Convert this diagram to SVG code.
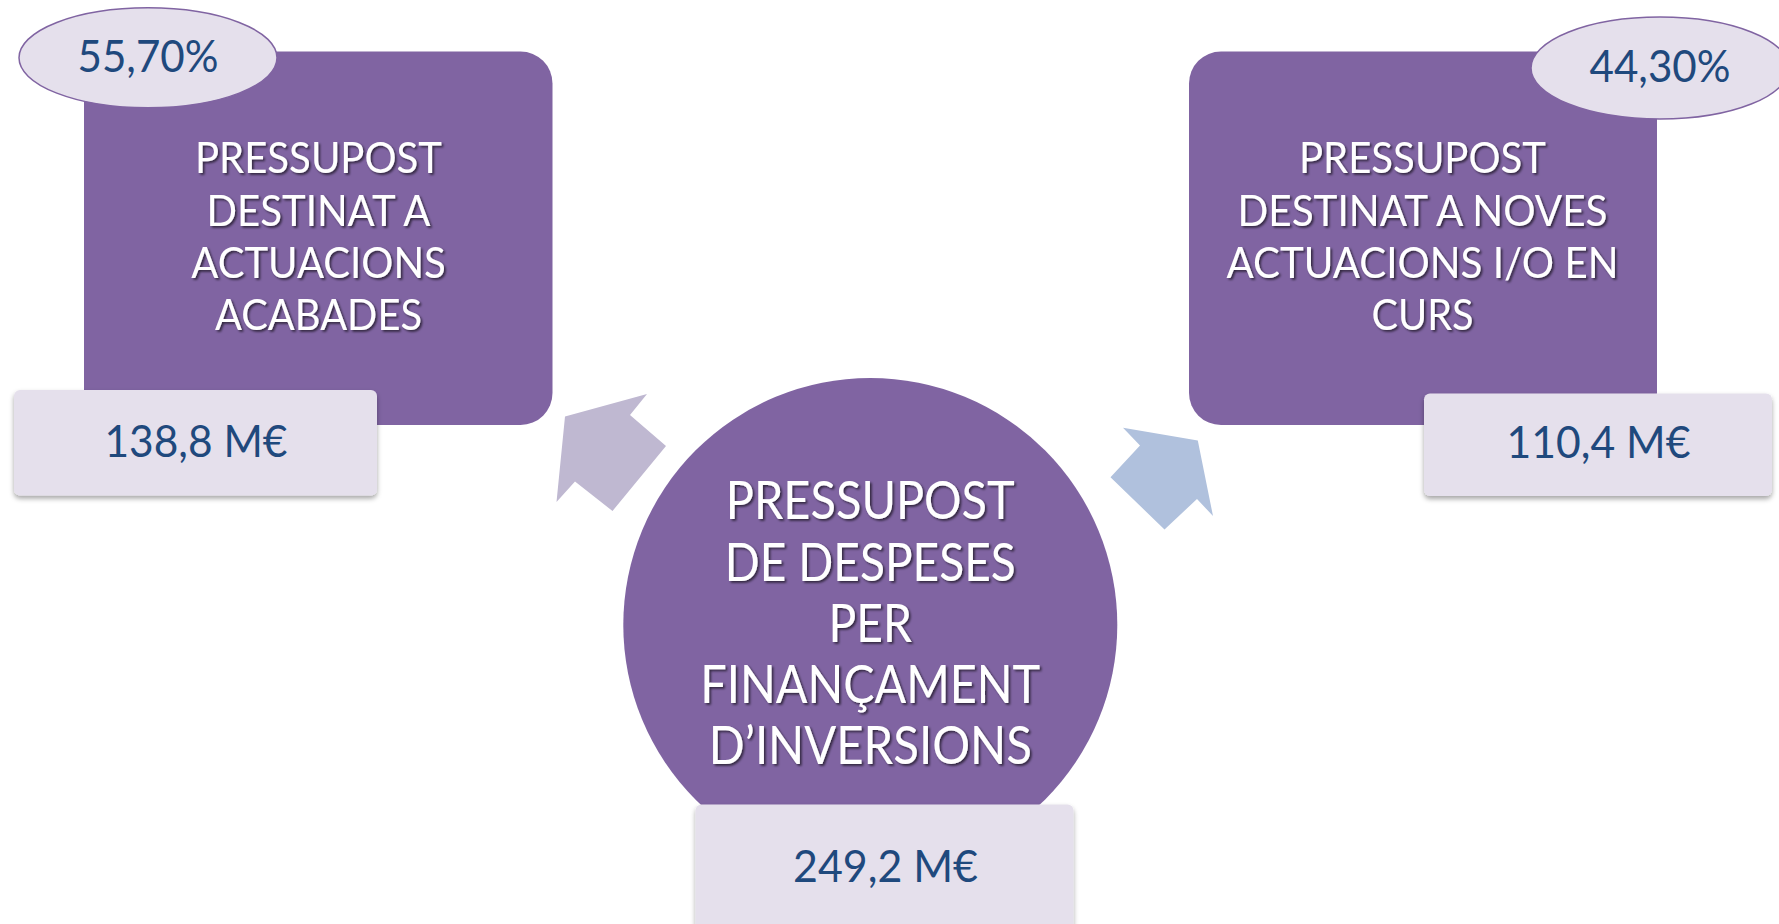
<svg xmlns="http://www.w3.org/2000/svg" width="1779" height="924" viewBox="0 0 1779 924">
<defs>
<filter id="tsh" x="-10%" y="-20%" width="120%" height="150%">
<feDropShadow dx="1.8" dy="1.8" stdDeviation="1" flood-color="#000" flood-opacity="0.6"/>
</filter>
<filter id="bsh" x="-10%" y="-20%" width="120%" height="150%">
<feDropShadow dx="0" dy="3" stdDeviation="2.5" flood-color="#000" flood-opacity="0.35"/>
</filter>
<style>
.main{fill:#8064A2;}
.val{fill:#E5E0EC;filter:url(#bsh);}
.pct{fill:#E5E0EC;stroke:#8064A2;stroke-width:1.5;}
.wt{font-family:Lato,"Open Sans","Liberation Sans",sans-serif;fill:#FFFFFF;text-anchor:middle;filter:url(#tsh);font-size:43px;}
.wc{font-size:52px;}
.bt{font-family:Lato,"Open Sans","Liberation Sans",sans-serif;fill:#1F497D;text-anchor:middle;font-size:44px;}
</style>
</defs>
<rect width="1779" height="924" fill="#FFFFFF"/>
<g id="connectors">
<polygon fill="#BFB8D1" points="647,394 630,415 666,446 612.5,511 575,481.5 556.5,502 565,416.5"/>
<polygon fill="#B0C1DD" points="1123,427.7 1197.8,440.5 1213,516 1197,499 1164.5,529.5 1110.5,477.2 1140,445.5"/>
</g>
<g id="node-left">
<rect class="main" x="84" y="51.5" width="468.5" height="373.5" rx="32" ry="32"/>
<ellipse class="pct" cx="148" cy="57.8" rx="129" ry="50"/>
<text class="bt" x="148" y="72" textLength="141" lengthAdjust="spacingAndGlyphs">55,70%</text>
<text class="wt" x="318.5" y="173" textLength="247" lengthAdjust="spacingAndGlyphs">PRESSUPOST</text>
<text class="wt" x="318.5" y="225.5" textLength="224" lengthAdjust="spacingAndGlyphs">DESTINAT A</text>
<text class="wt" x="318.5" y="277.5" textLength="254.5" lengthAdjust="spacingAndGlyphs">ACTUACIONS</text>
<text class="wt" x="318.5" y="329.5" textLength="207" lengthAdjust="spacingAndGlyphs">ACABADES</text>
<rect class="val" x="14" y="390" width="363" height="105.5" rx="6" ry="6"/>
<text class="bt" x="196" y="456.5" textLength="183" lengthAdjust="spacingAndGlyphs">138,8 M€</text>
</g>
<g id="node-right">
<rect class="main" x="1189" y="51.5" width="468" height="373.5" rx="32" ry="32"/>
<ellipse class="pct" cx="1660" cy="68" rx="129" ry="51"/>
<text class="bt" x="1660" y="82" textLength="141" lengthAdjust="spacingAndGlyphs">44,30%</text>
<text class="wt" x="1422.5" y="173" textLength="247" lengthAdjust="spacingAndGlyphs">PRESSUPOST</text>
<text class="wt" x="1422.5" y="225.5" textLength="370" lengthAdjust="spacingAndGlyphs">DESTINAT A NOVES</text>
<text class="wt" x="1422.5" y="277.5" textLength="392" lengthAdjust="spacingAndGlyphs">ACTUACIONS I/O EN</text>
<text class="wt" x="1422.5" y="329.5" textLength="102" lengthAdjust="spacingAndGlyphs">CURS</text>
<rect class="val" x="1424" y="393.5" width="348" height="102.5" rx="6" ry="6"/>
<text class="bt" x="1598.5" y="458" textLength="184" lengthAdjust="spacingAndGlyphs">110,4 M€</text>
</g>
<g id="node-center">
<circle class="main" cx="870.3" cy="625" r="247"/>
<text class="wt wc" x="870.3" y="519" textLength="289" lengthAdjust="spacingAndGlyphs">PRESSUPOST</text>
<text class="wt wc" x="870.3" y="580.5" textLength="291" lengthAdjust="spacingAndGlyphs">DE DESPESES</text>
<text class="wt wc" x="870.3" y="641.5" textLength="83.5" lengthAdjust="spacingAndGlyphs">PER</text>
<text class="wt wc" x="870.3" y="703" textLength="340" lengthAdjust="spacingAndGlyphs">FINANÇAMENT</text>
<text class="wt wc" x="870.3" y="764" textLength="323" lengthAdjust="spacingAndGlyphs">D’INVERSIONS</text>
<rect class="val" x="695.5" y="804.5" width="378" height="135" rx="6" ry="6"/>
<text class="bt" x="885.5" y="881.5" textLength="185" lengthAdjust="spacingAndGlyphs">249,2 M€</text>
</g>
</svg>
